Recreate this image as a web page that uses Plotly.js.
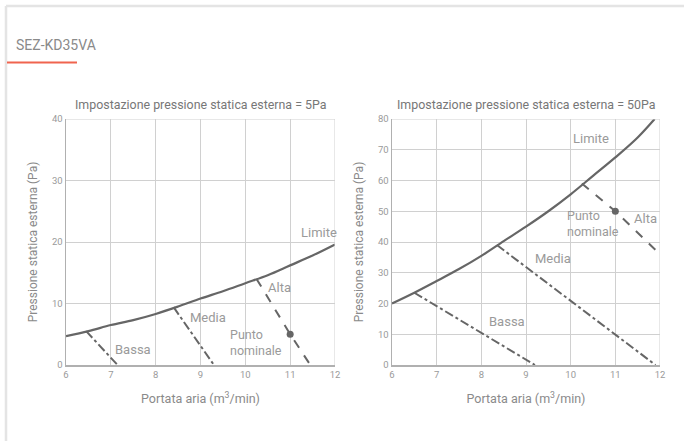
<!DOCTYPE html>
<html>
<head>
<meta charset="utf-8">
<script src="https://cdn.plot.ly/plotly-3.0.1.min.js"></script>
<style>
html,body{margin:0;padding:0;background:#fff;}
#chart{width:684px;height:441px;}
</style>
</head>
<body>
<div id="chart"></div>
<script>
// ---- Data ----
const pageTitle = "SEZ-KD35VA";
const subTitles = ["Impostazione pressione statica esterna = 5Pa", "Impostazione pressione statica esterna = 50Pa"];
const xTitle = "Portata aria (m<sup>3</sup>/min)";
const yTitle = "Pressione statica esterna (Pa)";

// Left chart (5 Pa setting)
const limA_x = [6, 6.5, 7, 7.5, 8, 8.5, 9, 9.5, 10, 10.5, 11, 11.5, 12];
const limA_y = [4.7, 5.5, 6.5, 7.3, 8.3, 9.5, 10.8, 12, 13.3, 14.6, 16.2, 17.8, 19.6];
const bassaA_x = [6.45, 7.15];
const bassaA_y = [5.5, 0];
const mediaA_x = [8.4, 9.3];
const mediaA_y = [9.4, 0];
const altaA_x = [10.25, 11, 11.45];
const altaA_y = [14, 5, 0];
const nomA_x = [11];
const nomA_y = [5];

// Right chart (50 Pa setting)
const limB_x = [6, 6.5, 7, 7.5, 8, 8.5, 9, 9.5, 10, 10.5, 11, 11.5, 11.88];
const limB_y = [20, 23.5, 27.3, 31.2, 35.5, 40.3, 45, 50, 55.5, 61.5, 67.5, 74, 80];
const bassaB_x = [6.5, 9.2];
const bassaB_y = [23.5, 0];
const mediaB_x = [8.35, 11.9];
const mediaB_y = [39, 0];
const altaB_x = [10.25, 11, 12];
const altaB_y = [59, 50, 36];
const nomB_x = [11];
const nomB_y = [50];

const xTicks = [6, 7, 8, 9, 10, 11, 12];
const yTicksA = [0, 10, 20, 30, 40];
const yTicksB = [0, 10, 20, 30, 40, 50, 60, 70, 80];

// ---- Styling ----
const FONT = "Roboto, sans-serif";
const lineCol = "#666666";
const labCol = "#9a9a9a";
const W = 684, H = 441;
const px = v => v / W;
const py = v => 1 - v / H;

function line(x, y, dash, xa, ya, w, shape) {
  return {x: x, y: y, mode: "lines", type: "scatter", xaxis: xa, yaxis: ya,
    line: {color: lineCol, width: w || 2, dash: dash, shape: shape || "linear", smoothing: 1},
    hoverinfo: "skip", showlegend: false};
}
function pt(x, y, xa, ya) {
  return {x: x, y: y, mode: "markers", type: "scatter", xaxis: xa, yaxis: ya,
    marker: {color: lineCol, size: 7}, hoverinfo: "skip", showlegend: false};
}

const traces = [
  line(limA_x, limA_y, "solid", "x", "y", 2.2, "spline"),
  line(bassaA_x, bassaA_y, "dashdot", "x", "y"),
  line(mediaA_x, mediaA_y, "dashdot", "x", "y"),
  line(altaA_x, altaA_y, "dash", "x", "y"),
  pt(nomA_x, nomA_y, "x", "y"),
  line(limB_x, limB_y, "solid", "x2", "y2", 2.2, "spline"),
  line(bassaB_x, bassaB_y, "dashdot", "x2", "y2"),
  line(mediaB_x, mediaB_y, "dashdot", "x2", "y2"),
  line(altaB_x, altaB_y, "dash", "x2", "y2"),
  pt(nomB_x, nomB_y, "x2", "y2")
];

function xaxis(domain, anchor) {
  return {domain: domain, anchor: anchor, range: [6, 12], tickvals: xTicks, ticktext: xTicks.map(String),
    showgrid: true, gridcolor: "#d0d0d0", gridwidth: 1, zeroline: false,
    showline: true, linecolor: "#b0b0b0", linewidth: 1.5, mirror: false,
    ticks: "", ticklen: 0, tickfont: {family: FONT, size: 9.5, color: "#9a9a9a"},
    title: {text: xTitle, font: {family: FONT, size: 12.5, color: "#8a8a8a"}, standoff: 15},
    fixedrange: true};
}
function yaxis(domain, anchor, max, ticks) {
  return {domain: domain, anchor: anchor, range: [0, max], tickvals: ticks, ticktext: ticks.map(String),
    showgrid: true, gridcolor: "#d0d0d0", gridwidth: 1, zeroline: false,
    showline: true, linecolor: "#b0b0b0", linewidth: 1.5, mirror: false,
    ticks: "", ticklen: 0, tickfont: {family: FONT, size: 9.5, color: "#9a9a9a"},
    title: {text: yTitle, font: {family: FONT, size: 12, color: "#8a8a8a"}, standoff: 11},
    fixedrange: true};
}

const yDom = [py(365), py(119)];
const layout = {
  width: W, height: H,
  margin: {l: 0, r: 0, t: 0, b: 0},
  paper_bgcolor: "#fff", plot_bgcolor: "#fff",
  showlegend: false,
  xaxis: xaxis([px(66), px(335)], "y"),
  yaxis: yaxis(yDom, "x", 40, yTicksA),
  xaxis2: xaxis([px(392), px(660)], "y2"),
  yaxis2: yaxis(yDom, "x2", 80, yTicksB),
  shapes: [
    // frame
    {type: "line", xref: "paper", yref: "paper", x0: px(6), x1: 1, y0: py(6), y1: py(6), line: {color: "#e4e4e4", width: 2.5}},
    {type: "line", xref: "paper", yref: "paper", x0: px(6), x1: px(6), y0: py(6), y1: 0, line: {color: "#e4e4e4", width: 2.5}},
    // red underline
    {type: "line", xref: "paper", yref: "paper", x0: px(7), x1: px(77), y0: py(62.5), y1: py(62.5), line: {color: "#f0644e", width: 2}},
    // top/right borders of plots (grid-colored)
    {type: "line", xref: "x", yref: "y", x0: 6, x1: 12, y0: 40, y1: 40, line: {color: "#d0d0d0", width: 1}},
    {type: "line", xref: "x", yref: "y", x0: 12, x1: 12, y0: 0, y1: 40, line: {color: "#d0d0d0", width: 1}},
    {type: "line", xref: "x2", yref: "y2", x0: 6, x1: 12, y0: 80, y1: 80, line: {color: "#d0d0d0", width: 1}},
    {type: "line", xref: "x2", yref: "y2", x0: 12, x1: 12, y0: 0, y1: 80, line: {color: "#d0d0d0", width: 1}}
  ],
  annotations: [
    {text: pageTitle, xref: "paper", yref: "paper", x: px(14), y: py(45), xanchor: "left", yanchor: "middle", showarrow: false,
      font: {family: FONT, size: 14, color: "#8a8a8a"}},
    {text: subTitles[0], xref: "paper", yref: "paper", x: px(201), y: py(104), xanchor: "center", yanchor: "middle", showarrow: false,
      font: {family: FONT, size: 12.4, color: "#777"}},
    {text: subTitles[1], xref: "paper", yref: "paper", x: px(526), y: py(104), xanchor: "center", yanchor: "middle", showarrow: false,
      font: {family: FONT, size: 12.4, color: "#777"}},
    // left labels
    {text: "Limite", xref: "x", yref: "y", x: 11.65, y: 21.5, showarrow: false, font: {family: FONT, size: 13, color: labCol}},
    {text: "Alta", xref: "x", yref: "y", x: 10.77, y: 12.6, showarrow: false, font: {family: FONT, size: 13, color: labCol}},
    {text: "Media", xref: "x", yref: "y", x: 9.17, y: 7.8, showarrow: false, font: {family: FONT, size: 13, color: labCol}},
    {text: "Bassa", xref: "x", yref: "y", x: 7.5, y: 2.6, showarrow: false, font: {family: FONT, size: 13, color: labCol}},
    {text: "Punto<br>nominale", xref: "x", yref: "y", x: 10.24, y: 3.6, showarrow: false, align: "left",
      font: {family: FONT, size: 12.5, color: labCol}},
    // right labels
    {text: "Limite", xref: "x2", yref: "y2", x: 10.45, y: 73.5, showarrow: false, font: {family: FONT, size: 13, color: labCol}},
    {text: "Alta", xref: "x2", yref: "y2", x: 11.68, y: 47.5, showarrow: false, font: {family: FONT, size: 13, color: labCol}},
    {text: "Media", xref: "x2", yref: "y2", x: 9.6, y: 34.5, showarrow: false, font: {family: FONT, size: 13, color: labCol}},
    {text: "Bassa", xref: "x2", yref: "y2", x: 8.58, y: 14, showarrow: false, font: {family: FONT, size: 13, color: labCol}},
    {text: "Punto<br>nominale", xref: "x2", yref: "y2", x: 10.5, y: 46, showarrow: false, align: "left",
      font: {family: FONT, size: 12.5, color: labCol}}
  ]
};

Plotly.newPlot("chart", traces, layout, {staticPlot: true, displayModeBar: false});
</script>
</body>
</html>
